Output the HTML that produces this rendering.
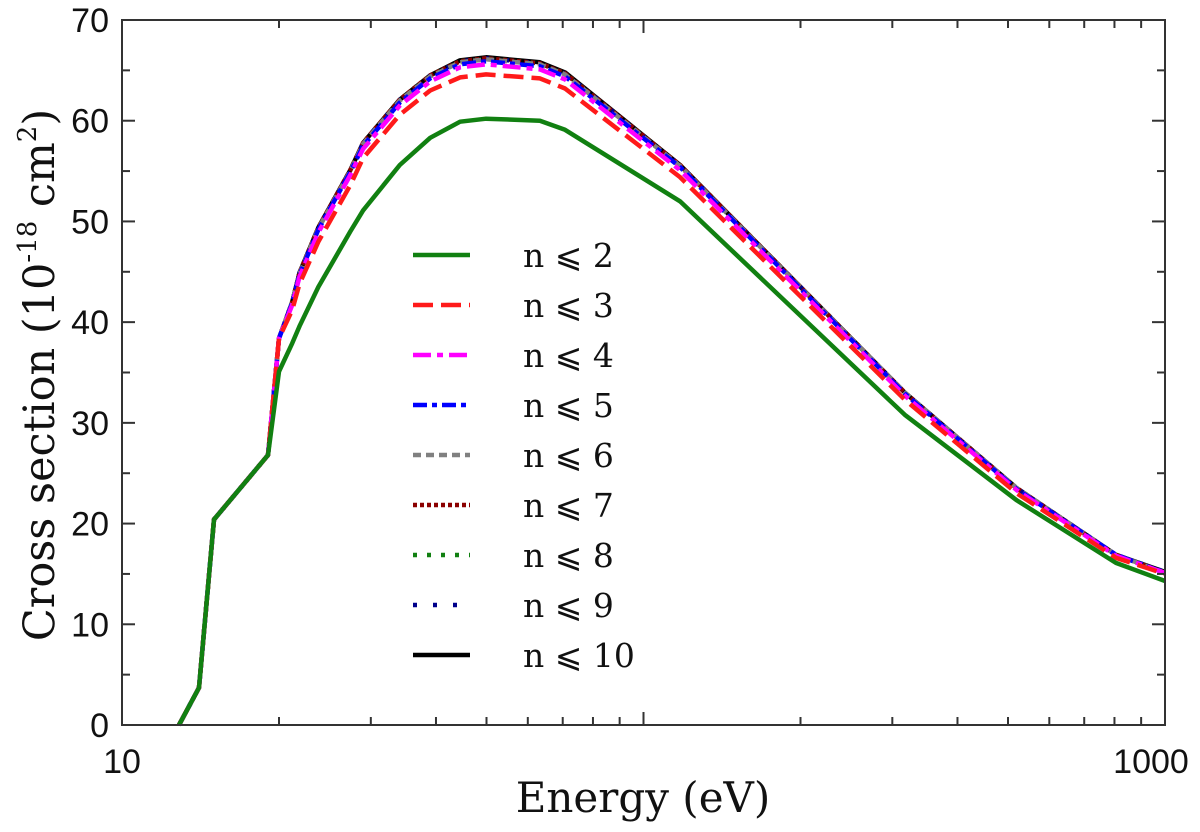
<!DOCTYPE html>
<html><head><meta charset="utf-8">
<style>
html,body{margin:0;padding:0;background:#fff;}
svg{display:block;}
.tick{font-family:"Liberation Sans",sans-serif;font-size:34px;fill:#111;}
.title{font-family:"DejaVu Serif","Liberation Serif",serif;fill:#111;}
.leg{font-family:"DejaVu Serif","Liberation Serif",serif;font-size:33px;fill:#111;}
</style></head>
<body>
<svg id="chart" width="1200" height="832" viewBox="0 0 1200 832" xmlns="http://www.w3.org/2000/svg">
<g id="grid"></g>
<g id="series"></g>
<rect x="122" y="20" width="1043" height="705" fill="none" stroke="#333" stroke-width="2"/>
<g id="ticks"></g>
<text class="title" x="643" y="812" font-size="42" text-anchor="middle">Energy (eV)</text>
<text class="title" transform="translate(54,375) rotate(-90)" font-size="43" text-anchor="middle">Cross section (10<tspan font-size="26" dy="-18">-18</tspan><tspan dy="18"> cm</tspan><tspan font-size="26" dy="-18">2</tspan><tspan dy="18">)</tspan></text>
<g id="legend"></g>
</svg>
<script>
const energies = [12.86,14.05,15.01,19.05,20.0,21.2,21.9,23.8,27.4,29.0,34.1,39.0,44.5,49.9,63.3,70.7,117.5,317,520,805,1000];
const n2  = [0,3.7,20.4,26.8,35.1,37.9,39.6,43.5,49.0,51.1,55.6,58.3,59.9,60.2,60.0,59.1,52.0,30.8,22.3,16.1,14.3];
const n3  = [0,3.7,20.4,26.8,38.4,41.2,43.8,48.0,53.6,56.3,60.6,63.0,64.3,64.6,64.2,63.2,54.4,32.3,23.0,16.6,15.0];
const n4  = [0,3.7,20.4,26.8,38.4,41.7,44.5,48.9,54.6,57.2,61.5,63.9,65.3,65.6,65.1,64.1,55.1,32.7,23.3,16.8,15.1];
const n5  = [0,3.7,20.4,26.8,38.4,41.9,44.7,49.2,54.9,57.5,61.8,64.2,65.6,65.9,65.4,64.4,55.4,32.9,23.4,16.9,15.1];
const n6  = [0,3.7,20.4,26.8,38.4,42.0,44.8,49.3,55.0,57.7,62.0,64.4,65.8,66.1,65.6,64.6,55.5,33.0,23.5,16.9,15.1];
const n7  = [0,3.7,20.4,26.8,38.4,42.0,44.9,49.4,55.1,57.8,62.1,64.5,65.9,66.2,65.7,64.7,55.6,33.0,23.5,16.9,15.1];
const n8  = [0,3.7,20.4,26.8,38.4,42.0,44.9,49.4,55.1,57.8,62.1,64.5,65.9,66.2,65.7,64.7,55.6,33.0,23.5,16.9,15.1];
const n9  = [0,3.7,20.4,26.8,38.4,42.0,44.9,49.4,55.1,57.8,62.1,64.5,65.9,66.2,65.7,64.7,55.6,33.0,23.5,16.9,15.2];
const n10 = [0,3.7,20.4,26.8,38.4,42.0,44.9,49.4,55.1,57.8,62.1,64.5,66.0,66.3,65.8,64.8,55.6,33.0,23.5,16.9,15.2];
const seriesLabels = ["n \u2a7d 2","n \u2a7d 3","n \u2a7d 4","n \u2a7d 5","n \u2a7d 6","n \u2a7d 7","n \u2a7d 8","n \u2a7d 9","n \u2a7d 10"];
const yTicks = [0,10,20,30,40,50,60,70];
const xTickLabels = ["10","1000"];

const X0=122,X1=1165,Y0=725,Y1=20;
const xMin=10,xMax=1000,yMin=0,yMax=70;
function sx(v){return X0+(Math.log10(v)-Math.log10(xMin))/(Math.log10(xMax)-Math.log10(xMin))*(X1-X0);}
function sy(v){return Y0-(v-yMin)/(yMax-yMin)*(Y0-Y1);}
const NS="http://www.w3.org/2000/svg";
function mk(tag,attrs,parent){const e=document.createElementNS(NS,tag);for(const k in attrs)e.setAttribute(k,attrs[k]);parent.appendChild(e);return e;}

const styles=[
 {c:"#118011",d:""},
 {c:"#ff1a1a",d:"20 8"},
 {c:"#ff00ff",d:"18 6 6 6"},
 {c:"#0000ff",d:"14 5 5 5"},
 {c:"#808080",d:"8 5"},
 {c:"#8b0000",d:"4 3"},
 {c:"#118011",d:"4 10"},
 {c:"#00008b",d:"4 16"},
 {c:"#000000",d:""}
];
const allSeries=[n2,n3,n4,n5,n6,n7,n8,n9,n10];
const sg=document.getElementById('series');
const drawOrder=[8,7,6,5,4,3,2,1,0];
drawOrder.forEach(i=>{
  const pts=energies.map((e,j)=>sx(e).toFixed(1)+","+sy(allSeries[i][j]).toFixed(1)).join(" ");
  const p=mk('polyline',{points:pts,fill:"none",stroke:styles[i].c,"stroke-width":4.5,"stroke-linejoin":"round"},sg);
  if(styles[i].d)p.setAttribute('stroke-dasharray',styles[i].d);
  
  
});

const tg=document.getElementById('ticks');
for(let v=0;v<=70;v+=5){
  const major=v%10===0, L=major?13:8, y=sy(v);
  mk('line',{x1:X0,x2:X0+L,y1:y,y2:y,stroke:"#333","stroke-width":2},tg);
  mk('line',{x1:X1,x2:X1-L,y1:y,y2:y,stroke:"#333","stroke-width":2},tg);
}
yTicks.forEach(v=>{
  const t=mk('text',{x:109,y:sy(v)+12,"text-anchor":"end",class:"tick"},tg);
  t.textContent=v;
  
  
});
for(let dec=10;dec<1000;dec*=10){
  for(let m=1;m<=10;m++){
    const v=dec*m; if(v>1000)continue;
    const major=(m===1||m===10), L=major?13:8, x=sx(v);
    mk('line',{x1:x,x2:x,y1:Y0,y2:Y0-L,stroke:"#333","stroke-width":2},tg);
    mk('line',{x1:x,x2:x,y1:Y1,y2:Y1+L,stroke:"#333","stroke-width":2},tg);
  }
}
xTickLabels.forEach((s,i)=>{
  const v=parseFloat(s);
  const t=mk('text',{x:i===0?sx(v):sx(v)-14,y:773,"text-anchor":"middle",class:"tick"},tg);
  t.textContent=s;
  
  
});

const lg=document.getElementById('legend');
seriesLabels.forEach((lab,i)=>{
  const y=255+i*50;
  const g=mk('g',{},lg);
  
  
  const l=mk('line',{x1:413,x2:470,y1:y,y2:y,stroke:styles[i].c,"stroke-width":4.5},g);
  if(styles[i].d)l.setAttribute('stroke-dasharray',styles[i].d);
  const t=mk('text',{x:523,y:y+12,class:"leg"},g);
  t.textContent=lab;
});
</script>
</body></html>
